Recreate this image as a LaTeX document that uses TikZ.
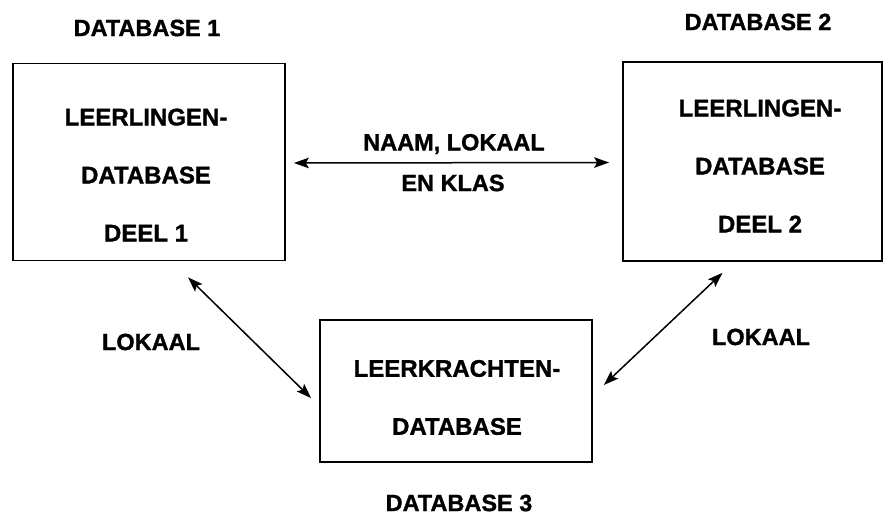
\documentclass[tikz,border=0pt]{standalone}
\usepackage{fontspec}
\setmainfont{Liberation Sans}[BoldFeatures={FakeBold=1.2}]
\usetikzlibrary{arrows.meta}
\begin{document}
\begin{tikzpicture}[x=1pt,y=-1pt,
  dbbox/.style={draw,line width=1.7pt,inner sep=0pt,minimum width=#1},
  boxtext/.style={font=\fontsize{24}{58}\selectfont\bfseries,align=center,inner sep=0pt},
  lbl/.style={font=\fontsize{23.5}{28}\selectfont\bfseries,inner sep=0pt},
  tip/.style={Stealth[length=15pt,width=10.5pt,inset=3pt]},
  link/.style={line width=1.5pt,{Stealth[length=15pt,width=10.5pt,inset=3pt]}-{Stealth[length=15pt,width=10.5pt,inset=3pt]}}]
  \useasboundingbox (0,0) rectangle (887,519);

  % the three databases
  \node[dbbox=272pt,minimum height=197pt] (b1) at (149,162) {};
  \node[dbbox=259pt,minimum height=199pt] (b2) at (752.5,161.5) {};
  \node[dbbox=272pt,minimum height=142pt] (b3) at (456,391) {};

  \node[boxtext] (t1) at (146,175) {LEERLINGEN-\\DATABASE\\DEEL 1};
  \node[boxtext] (t2) at (760,166) {LEERLINGEN-\\DATABASE\\DEEL 2};
  \node[boxtext] (t3) at (457,397.5) {LEERKRACHTEN-\\DATABASE};

  % headings
  \node[lbl] (h1) at (147,28) {DATABASE 1};
  \node[lbl] (h2) at (758,22) {DATABASE 2};
  \node[lbl] (h3) at (459,503) {DATABASE 3};

  % connector labels
  \node[lbl] (l12a) at (454,144) {NAAM, LOKAAL};
  \node[lbl] (l12b) at (453,183) {EN KLAS};
  \node[lbl] (l13) at (151,342) {LOKAAL};
  \node[lbl] (l23) at (761,337) {LOKAAL};

  % links between the databases
  \draw[link] ([shift={(8,1)}]b1.east) -- ([shift={(-13,1)}]b2.west);
  \draw[link] ([shift={(39,16)}]b1.south) -- ([shift={(-8,79)}]b3.north west);
  \draw[link] ([shift={(-30,11)}]b2.south) -- ([shift={(11,-6)}]b3.east);
\end{tikzpicture}
\end{document}
